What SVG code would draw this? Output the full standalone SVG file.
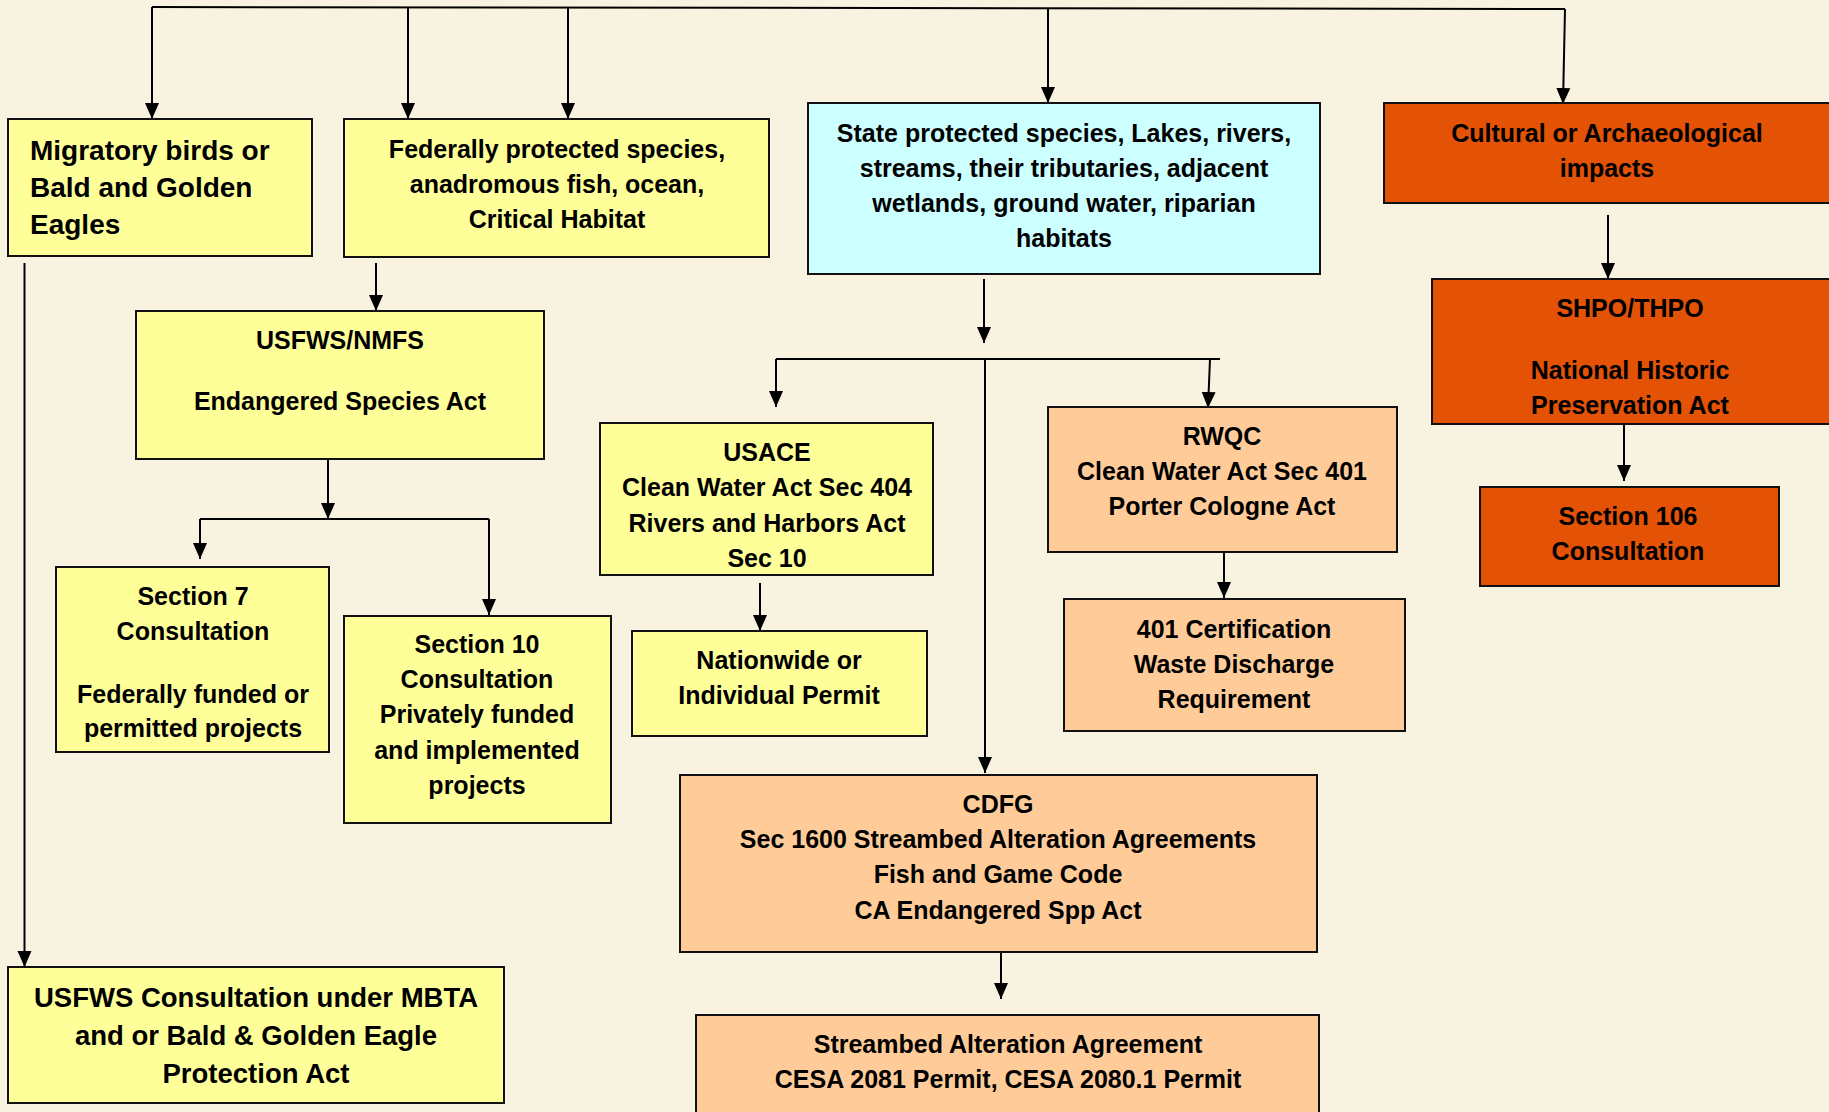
<svg xmlns="http://www.w3.org/2000/svg" width="1829" height="1112" viewBox="0 0 1829 1112">
<defs>
<marker id="ah" markerUnits="userSpaceOnUse" markerWidth="16" markerHeight="16" viewBox="0 0 16 14" refX="16" refY="7" orient="auto">
<path d="M0,0 L16,7 L0,14 z" fill="#000"/>
</marker>
<style>
.bx{stroke:#111;stroke-width:2}
.y{fill:#FFFF99}
.c{fill:#CCFFFF}
.o{fill:#E35205}
.p{fill:#FFCC99}
text{font-family:"Liberation Sans",Arial,sans-serif;font-weight:bold;font-size:25px;fill:#000;text-anchor:middle}
.l{text-anchor:start;font-size:28px}
.big{font-size:27.5px}
.cn{fill:none;stroke:#000;stroke-width:2}
.ar{marker-end:url(#ah)}
</style>
</defs>
<rect width="1829" height="1112" fill="#F7F3E0"/>

<g id="connectors">
<path class="cn" d="M152,7 L1565,9"/>
<path class="cn ar" d="M152,7 V119"/>
<path class="cn ar" d="M408,7 V119"/>
<path class="cn ar" d="M568,7 V119"/>
<path class="cn ar" d="M1048,8 V103"/>
<path class="cn ar" d="M1565,9 L1563,104"/>
<path class="cn ar" d="M24.5,263 V967"/>
<path class="cn ar" d="M376,263 V311"/>
<path class="cn ar" d="M328,459 V519"/>
<path class="cn" d="M200,519 H489"/>
<path class="cn ar" d="M200,519 V559"/>
<path class="cn ar" d="M489,519 V615"/>
<path class="cn ar" d="M984,279 V343"/>
<path class="cn" d="M776,359 H1220"/>
<path class="cn ar" d="M776,359 V407"/>
<path class="cn ar" d="M1210,359 L1208,408"/>
<path class="cn ar" d="M985,359 V773"/>
<path class="cn ar" d="M760,583 V631"/>
<path class="cn ar" d="M1224,552 V598"/>
<path class="cn ar" d="M1001,952 V999"/>
<path class="cn ar" d="M1608,215 V279"/>
<path class="cn ar" d="M1624,424 V481"/>
</g>

<g id="migratory">
<rect class="bx y" x="8" y="119" width="304" height="137"/>
<text class="l" x="30" y="160">Migratory birds or</text>
<text class="l" x="30" y="197">Bald and Golden</text>
<text class="l" x="30" y="234">Eagles</text>
</g>

<g id="federal">
<rect class="bx y" x="344" y="119" width="425" height="138"/>
<text x="557" y="158">Federally protected species,</text>
<text x="557" y="193">anadromous fish, ocean,</text>
<text x="557" y="228">Critical Habitat</text>
</g>

<g id="state">
<rect class="bx c" x="808" y="103" width="512" height="171"/>
<text x="1064" y="142">State protected species, Lakes, rivers,</text>
<text x="1064" y="177">streams, their tributaries, adjacent</text>
<text x="1064" y="212">wetlands, ground water, riparian</text>
<text x="1064" y="247">habitats</text>
</g>

<g id="cultural">
<rect class="bx o" x="1384" y="103" width="460" height="100"/>
<text x="1607" y="142">Cultural or Archaeological</text>
<text x="1607" y="177">impacts</text>
</g>

<g id="shpo">
<rect class="bx o" x="1432" y="279" width="412" height="145"/>
<text x="1630" y="317">SHPO/THPO</text>
<text x="1630" y="379">National Historic</text>
<text x="1630" y="414">Preservation Act</text>
</g>

<g id="section106">
<rect class="bx o" x="1480" y="487" width="299" height="99"/>
<text x="1628" y="525">Section 106</text>
<text x="1628" y="560">Consultation</text>
</g>

<g id="usfws-nmfs">
<rect class="bx y" x="136" y="311" width="408" height="148"/>
<text x="340" y="349">USFWS/NMFS</text>
<text x="340" y="410">Endangered Species Act</text>
</g>

<g id="section7">
<rect class="bx y" x="56" y="567" width="273" height="185"/>
<text x="193" y="605">Section 7</text>
<text x="193" y="640">Consultation</text>
<text x="193" y="703">Federally funded or</text>
<text x="193" y="737">permitted projects</text>
</g>

<g id="section10">
<rect class="bx y" x="344" y="616" width="267" height="207"/>
<text x="477" y="653">Section 10</text>
<text x="477" y="688">Consultation</text>
<text x="477" y="723">Privately funded</text>
<text x="477" y="759">and implemented</text>
<text x="477" y="794">projects</text>
</g>

<g id="usace">
<rect class="bx y" x="600" y="423" width="333" height="152"/>
<text x="767" y="461">USACE</text>
<text x="767" y="496">Clean Water Act Sec 404</text>
<text x="767" y="532">Rivers and Harbors Act</text>
<text x="767" y="567">Sec 10</text>
</g>

<g id="nationwide">
<rect class="bx y" x="632" y="631" width="295" height="105"/>
<text x="779" y="669">Nationwide or</text>
<text x="779" y="704">Individual Permit</text>
</g>

<g id="rwqc">
<rect class="bx p" x="1048" y="407" width="349" height="145"/>
<text x="1222" y="445">RWQC</text>
<text x="1222" y="480">Clean Water Act Sec 401</text>
<text x="1222" y="515">Porter Cologne Act</text>
</g>

<g id="cert401">
<rect class="bx p" x="1064" y="599" width="341" height="132"/>
<text x="1234" y="638">401 Certification</text>
<text x="1234" y="673">Waste Discharge</text>
<text x="1234" y="708">Requirement</text>
</g>

<g id="cdfg">
<rect class="bx p" x="680" y="775" width="637" height="177"/>
<text x="998" y="813">CDFG</text>
<text x="998" y="848">Sec 1600 Streambed Alteration Agreements</text>
<text x="998" y="883">Fish and Game Code</text>
<text x="998" y="919">CA Endangered Spp Act</text>
</g>

<g id="streambed">
<rect class="bx p" x="696" y="1015" width="623" height="110"/>
<text x="1008" y="1053">Streambed Alteration Agreement</text>
<text x="1008" y="1088">CESA 2081 Permit, CESA 2080.1 Permit</text>
</g>

<g id="mbta">
<rect class="bx y" x="8" y="967" width="496" height="136"/>
<text class="big" x="256" y="1007">USFWS Consultation under MBTA</text>
<text class="big" x="256" y="1045">and or Bald &amp; Golden Eagle</text>
<text class="big" x="256" y="1083">Protection Act</text>
</g>
</svg>
